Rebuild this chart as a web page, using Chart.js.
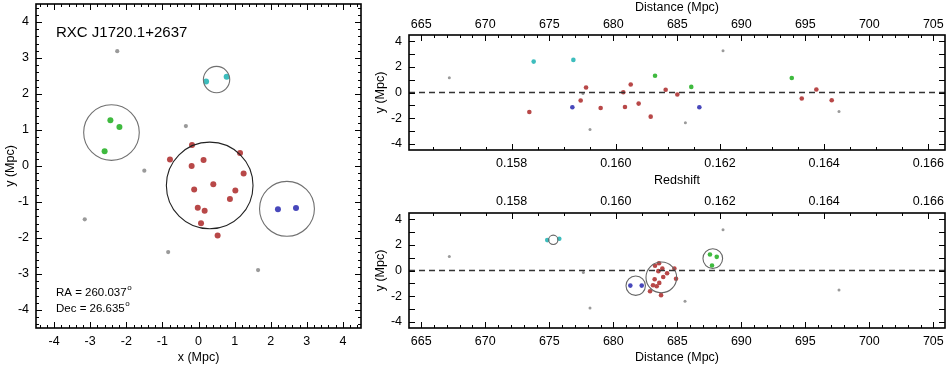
<!DOCTYPE html>
<html>
<head>
<meta charset="utf-8">
<script src="https://cdn.jsdelivr.net/npm/chart.js@4"></script>
<style>
  html, body { margin: 0; padding: 0; background: #fff; }
  #wrap { position: relative; width: 948px; height: 368px; }
  canvas { position: absolute; left: 0; top: 0; }
</style>
</head>
<body>
<div id="wrap">
  <canvas id="sky" width="948" height="368"></canvas>
  <canvas id="los" width="948" height="368"></canvas>
  <canvas id="grp" width="948" height="368"></canvas>
</div>
<script>
const clusterName = "RXC J1720.1+2637";
const raDeg = "260.037";
const decDeg = "26.635";

// sky plane, [x, y] in Mpc
const skyRed = [[-0.18, 0.58], [-0.79, 0.18], [-0.19, 0.00], [0.14, 0.17], [1.15, 0.36], [1.25, -0.21], [0.41, -0.51],
  [-0.12, -0.65], [1.02, -0.68], [0.87, -0.92], [-0.02, -1.16], [0.17, -1.24], [0.07, -1.59], [0.53, -1.93]];
const skyGreen = [[-2.44, 1.27], [-2.19, 1.08], [-2.60, 0.41]];
const skyBlue = [[2.20, -1.20], [2.70, -1.17]];
const skyCyan = [[0.21, 2.35], [0.78, 2.48]];
const skyGray = [[-2.25, 3.19], [-0.35, 1.11], [-1.50, -0.13], [-3.15, -1.48], [-0.84, -2.39], [1.65, -2.89]];

// top right: [distance Mpc, y Mpc]
const losRed = [[673.44, -1.53], [677.87, 0.39], [677.45, -0.63], [679.01, -1.21], [680.78, 0.02], [681.36, 0.63], [680.91, -1.14],
  [681.98, -0.87], [682.92, -1.89], [684.09, 0.21], [685.00, -0.16], [694.72, -0.47], [695.86, 0.24], [697.06, -0.61]];
const losGreen = [[683.26, 1.31], [686.09, 0.44], [693.94, 1.13]];
const losBlue = [[676.80, -1.16], [686.72, -1.16]];
const losCyan = [[673.78, 2.42], [676.88, 2.55]];
const losGray = [[667.19, 1.15], [677.63, -0.08], [678.18, -2.90], [685.63, -2.37], [688.57, 3.26], [697.63, -1.48]];

// bottom right: [distance Mpc, y Mpc] after grouping
const grpRed = [[683.26, 0.37], [683.57, 0.57], [683.83, 0.16], [684.77, 0.16], [683.52, -0.05], [684.90, -0.65], [683.23, -0.68],
  [683.59, -0.97], [683.39, -1.23], [683.73, -1.93], [682.87, -1.62], [684.20, -0.21], [683.90, -0.51], [683.10, -1.16]];
const grpGreen = [[687.55, 1.25], [688.08, 1.07], [687.71, 0.39]];
const grpBlue = [[681.33, -1.18], [682.22, -1.18]];
const grpCyan = [[674.84, 2.38], [675.78, 2.49]];
const grpGray = [[667.19, 1.10], [677.66, -0.16], [678.18, -2.93], [685.60, -2.40], [688.57, 3.19], [697.63, -1.52]];

// groups: red, green, blue, cyan
const circleSkyX = [0.31, -2.41, 2.45, 0.50];
const circleSkyY = [-0.54, 0.93, -1.19, 2.40];
const circleDist = [683.75, 687.77, 681.75, 675.31];
const circleR = [1.20, 0.77, 0.76, 0.365];

const skyRange = [-4.5, 4.5];
const yRange = [-4.5, 4.5];
const distRange = [664.04, 705.91];
const zRange = [0.15603, 0.16632];

const skyTicks = [-4, -3, -2, -1, 0, 1, 2, 3, 4];
const yTicks = [-4, -3, -2, -1, 0, 1, 2, 3, 4];
const distTicks = [665, 670, 675, 680, 685, 690, 695, 700, 705];
const zTicks = [0.158, 0.160, 0.162, 0.164, 0.166];

const FONT = '"Liberation Sans", Arial, Helvetica, sans-serif';
Chart.defaults.font.family = FONT;
Chart.defaults.color = '#000';

const RED = '#b84848', GREEN = '#3fba3f', BLUE = '#4848bb', CYAN = '#3dbdbd', GRAY = '#9a9a9a';

function pts(arr) { return arr.map(p => ({ x: p[0], y: p[1] })); }

function dots(arr, color, r) {
  return { type: 'scatter', data: pts(arr), backgroundColor: color, borderWidth: 0, pointRadius: r, pointHoverRadius: r };
}

// circles with radius in data units, turned into pixels by the chart's own scale
function rings(xs, ys, colors, axis) {
  return {
    type: 'scatter',
    data: xs.map((x, i) => ({ x: x, y: ys[i] })),
    pointBackgroundColor: 'rgba(0,0,0,0)',
    pointBorderColor: colors,
    pointBorderWidth: 1.1,
    pointRadius: ctx => {
      const s = ctx.chart.scales[axis];
      return Math.abs(s.getPixelForValue(circleR[ctx.dataIndex]) - s.getPixelForValue(0));
    },
    clip: false
  };
}

function zeroLine() {
  return {
    type: 'line', data: [{ x: distRange[0], y: 0 }, { x: distRange[1], y: 0 }],
    borderColor: '#333', borderWidth: 1.4, borderDash: [6, 4], pointRadius: 0, fill: false
  };
}

function setTicks(values) {
  return s => { s.ticks = values.map(v => ({ value: v })); };
}

// fixed box size, and no extra label padding pushed into the layout
function fixed(dim, val) {
  return s => {
    s[dim] = val;
    s.paddingTop = 0; s.paddingBottom = 0; s.paddingLeft = 0; s.paddingRight = 0;
  };
}

// frame with inward ticks on all sides
const frame = {
  id: 'frame',
  afterDraw(chart, args, opts) {
    const { ctx, chartArea: a } = chart;
    ctx.save();
    ctx.strokeStyle = '#000';
    ctx.lineWidth = 1;
    for (const t of opts.ticks) {
      const s = chart.scales[t.scale];
      const k0 = Math.ceil(s.min / t.minor - 1e-6);
      for (let k = k0; k * t.minor <= s.max + 1e-9; k++) {
        const v = k * t.minor;
        const q = v / t.major;
        const len = Math.abs(q - Math.round(q)) < 1e-4 ? 6 : 3;
        const p = Math.round(s.getPixelForValue(v)) + 0.5;
        ctx.beginPath();
        for (const side of t.sides) {
          if (side === 'bottom') { ctx.moveTo(p, a.bottom); ctx.lineTo(p, a.bottom - len); }
          if (side === 'top') { ctx.moveTo(p, a.top); ctx.lineTo(p, a.top + len); }
          if (side === 'left') { ctx.moveTo(a.left, p); ctx.lineTo(a.left + len, p); }
          if (side === 'right') { ctx.moveTo(a.right, p); ctx.lineTo(a.right - len, p); }
        }
        ctx.stroke();
      }
    }
    ctx.lineWidth = 1.6;
    ctx.strokeRect(a.left, a.top, a.right - a.left, a.bottom - a.top);
    ctx.restore();
  }
};

const skyText = {
  id: 'skyText',
  afterDraw(chart) {
    const { ctx, chartArea: a } = chart;
    ctx.save();
    ctx.fillStyle = '#000';
    ctx.textBaseline = 'middle';
    ctx.font = '15px ' + FONT;
    ctx.fillText(clusterName, a.left + 20, a.top + 29);
    const lines = ['RA = ' + raDeg, 'Dec = ' + decDeg];
    lines.forEach((txt, i) => {
      const y = a.top + 289 + i * 16;
      ctx.font = '11.5px ' + FONT;
      ctx.fillText(txt, a.left + 20, y);
      const w = ctx.measureText(txt).width;
      ctx.font = '8px ' + FONT;
      ctx.fillText('o', a.left + 20 + w + 0.5, y - 5);
    });
    ctx.restore();
  }
};

function tickFont() { return { size: 12.5 }; }
function titleFont() { return { size: 12.5 }; }
const noGrid = { display: false, drawTicks: false };

new Chart(document.getElementById('sky'), {
  type: 'scatter',
  data: {
    datasets: [
      rings(circleSkyX, circleSkyY, ['#222', '#707070', '#707070', '#707070'], 'x'),
      dots(skyGray, GRAY, 2.1),
      dots(skyRed, RED, 3),
      dots(skyGreen, GREEN, 3),
      dots(skyBlue, BLUE, 3),
      dots(skyCyan, CYAN, 3)
    ]
  },
  options: {
    responsive: false, animation: false, events: [],
    layout: { padding: { left: 0, top: 4, right: 587, bottom: 0 } },
    plugins: {
      legend: { display: false }, tooltip: { enabled: false },
      frame: { ticks: [
        { scale: 'x', major: 1, minor: 0.2, sides: ['bottom', 'top'] },
        { scale: 'y', major: 1, minor: 0.2, sides: ['left', 'right'] }
      ] }
    },
    scales: {
      x: {
        type: 'linear', position: 'bottom', min: skyRange[0], max: skyRange[1],
        grid: noGrid, border: { display: false }, afterFit: fixed('height', 40), afterBuildTicks: setTicks(skyTicks),
        ticks: { padding: 6, font: tickFont() },
        title: { display: true, text: 'x (Mpc)', font: titleFont(), padding: { top: 0, bottom: 3 } }
      },
      y: {
        type: 'linear', position: 'left', min: skyRange[0], max: skyRange[1],
        grid: noGrid, border: { display: false }, afterFit: fixed('width', 36), afterBuildTicks: setTicks(skyTicks),
        ticks: { padding: 7, font: tickFont() },
        title: { display: true, text: 'y (Mpc)', font: titleFont(), padding: { top: 3, bottom: 0 } }
      }
    }
  },
  plugins: [frame, skyText]
});

function zTick(v) { return v.toFixed(3); }

new Chart(document.getElementById('los'), {
  type: 'scatter',
  data: {
    datasets: [
      zeroLine(),
      dots(losGray, GRAY, 1.5),
      dots(losRed, RED, 2.3),
      dots(losGreen, GREEN, 2.3),
      dots(losBlue, BLUE, 2.3),
      dots(losCyan, CYAN, 2.3)
    ]
  },
  options: {
    responsive: false, animation: false, events: [],
    layout: { padding: { left: 360, top: 0, right: 3, bottom: 178 } },
    plugins: {
      legend: { display: false }, tooltip: { enabled: false },
      frame: { ticks: [
        { scale: 'x', major: 5, minor: 1, sides: ['top'] },
        { scale: 'xz', major: 0.002, minor: 0.0005, sides: ['bottom'] },
        { scale: 'y', major: 1, minor: 1, sides: ['left', 'right'] }
      ] }
    },
    scales: {
      x: {
        type: 'linear', position: 'top', min: distRange[0], max: distRange[1],
        grid: noGrid, border: { display: false }, afterFit: fixed('height', 35), afterBuildTicks: setTicks(distTicks),
        ticks: { padding: 2.5, font: tickFont() },
        title: { display: true, text: 'Distance (Mpc)', font: titleFont(), padding: { top: 0, bottom: 0 } }
      },
      xz: {
        type: 'linear', axis: 'x', position: 'bottom', min: zRange[0], max: zRange[1],
        grid: noGrid, border: { display: false }, afterFit: fixed('height', 40), afterBuildTicks: setTicks(zTicks),
        ticks: { padding: 6, font: tickFont(), callback: zTick },
        title: { display: true, text: 'Redshift', font: titleFont(), padding: { top: 0, bottom: 2 } }
      },
      y: {
        type: 'linear', position: 'left', min: yRange[0], max: yRange[1],
        grid: noGrid, border: { display: false }, afterFit: fixed('width', 49), afterBuildTicks: setTicks(yTicks),
        ticks: { padding: 7, font: tickFont() },
        title: { display: true, text: 'y (Mpc)', font: titleFont(), padding: { top: 13, bottom: 0 } }
      }
    }
  },
  plugins: [frame]
});

new Chart(document.getElementById('grp'), {
  type: 'scatter',
  data: {
    datasets: [
      zeroLine(),
      rings(circleDist, circleSkyY, ['#666', '#666', '#666', '#666'], 'y'),
      dots(grpGray, GRAY, 1.5),
      dots(grpRed, RED, 2.3),
      dots(grpGreen, GREEN, 2.3),
      dots(grpBlue, BLUE, 2.3),
      dots(grpCyan, CYAN, 2.3)
    ]
  },
  options: {
    responsive: false, animation: false, events: [],
    layout: { padding: { left: 360, top: 185, right: 3, bottom: 0 } },
    plugins: {
      legend: { display: false }, tooltip: { enabled: false },
      frame: { ticks: [
        { scale: 'x', major: 5, minor: 1, sides: ['bottom'] },
        { scale: 'xz', major: 0.002, minor: 0.0005, sides: ['top'] },
        { scale: 'y', major: 1, minor: 1, sides: ['left', 'right'] }
      ] }
    },
    scales: {
      x: {
        type: 'linear', position: 'bottom', min: distRange[0], max: distRange[1],
        grid: noGrid, border: { display: false }, afterFit: fixed('height', 40), afterBuildTicks: setTicks(distTicks),
        ticks: { padding: 6, font: tickFont() },
        title: { display: true, text: 'Distance (Mpc)', font: titleFont(), padding: { top: 0, bottom: 3 } }
      },
      xz: {
        type: 'linear', axis: 'x', position: 'top', min: zRange[0], max: zRange[1],
        grid: noGrid, border: { display: false }, afterFit: fixed('height', 28), afterBuildTicks: setTicks(zTicks),
        ticks: { padding: 4, font: tickFont(), callback: zTick },
        title: { display: false }
      },
      y: {
        type: 'linear', position: 'left', min: yRange[0], max: yRange[1],
        grid: noGrid, border: { display: false }, afterFit: fixed('width', 49), afterBuildTicks: setTicks(yTicks),
        ticks: { padding: 7, font: tickFont() },
        title: { display: true, text: 'y (Mpc)', font: titleFont(), padding: { top: 13, bottom: 0 } }
      }
    }
  },
  plugins: [frame]
});
</script>
</body>
</html>
